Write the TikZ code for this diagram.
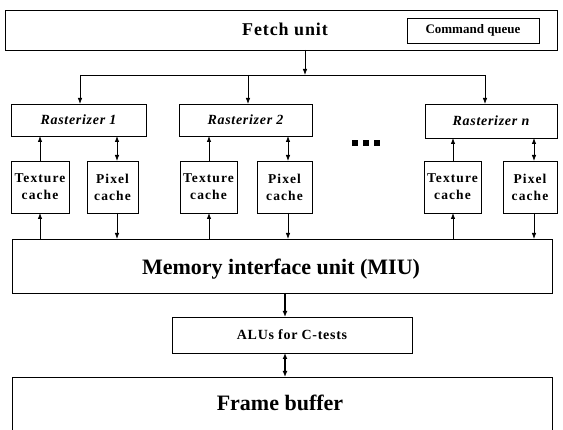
\documentclass[tikz,border=0pt]{standalone}
\usepackage{fontspec}
\setmainfont{Liberation Serif}
\newfontfamily\wideserif[LetterSpace=5]{Liberation Serif}
\newfontfamily\widerserif[LetterSpace=8]{Liberation Serif}
\usetikzlibrary{arrows.meta}
\begin{document}
\begin{tikzpicture}[x=1pt,y=-1pt,
  box/.style={draw,line width=0.8pt,inner sep=0pt,outer sep=0pt,align=center},
  conn/.style={line width=0.8pt},
  arr/.style={conn,-{Latex[length=6pt,width=4.5pt]}},
  darr/.style={conn,{Latex[length=6pt,width=4.5pt]}-{Latex[length=6pt,width=4.5pt]}},
  heavy/.style={line width=1.5pt},
  cachebox/.style={box,minimum height=52pt,font=\widerserif\bfseries\fontsize{13.5}{17}\selectfont},
  rastbox/.style={box,minimum height=32pt,font=\wideserif\bfseries\itshape\fontsize{14}{16}\selectfont},
  biglabel/.style={font=\bfseries\fontsize{22}{26}\selectfont,inner sep=0pt}]
\useasboundingbox (0,0) rectangle (563,430);
\fill[white] (0,0) rectangle (563,430);

% fetch unit with its command queue
\node[box,minimum width=552pt,minimum height=40pt] (fetch) at (281,30) {};
\node[font=\wideserif\bfseries\fontsize{18}{20}\selectfont,inner sep=0pt] (fetchlbl) at (285,29) {Fetch unit};
\node[box,minimum width=132pt,minimum height=25pt,font=\bfseries\fontsize{13}{15}\selectfont] (cmdq) at (473,30.5) {Command queue};

% rasterizers
\node[rastbox,minimum width=135pt] (r1) at (78.5,120) {Rasterizer 1};
\node[rastbox,minimum width=133pt] (r2) at (245.5,120) {Rasterizer 2};
\node[rastbox,minimum width=132pt,minimum height=34pt] (rn) at (491,121) {Rasterizer \textit{n}};

% caches
\node[cachebox,minimum width=58pt] (t1) at (40,187) {Texture\\cache};
\node[cachebox,minimum width=51pt] (p1) at (112.5,187) {Pixel\\cache};
\node[cachebox,minimum width=57pt] (t2) at (208.5,187) {Texture\\cache};
\node[cachebox,minimum width=55pt] (p2) at (284.5,187) {Pixel\\cache};
\node[cachebox,minimum width=57pt] (tn) at (452.5,187) {Texture\\cache};
\node[cachebox,minimum width=54pt] (pn) at (530,187) {Pixel\\cache};

% continuation dots
\foreach \dx in {355,366,377} \fill (\dx-3,140) rectangle (\dx+3,146);

% memory interface, ALUs and frame buffer
\node[box,minimum width=540pt,minimum height=54pt] (miu) at (282,266) {};
\node[biglabel] (miulbl) at (281,269) {Memory interface unit (MIU)};
\node[box,minimum width=240pt,minimum height=36pt,font=\wideserif\bfseries\fontsize{14}{16}\selectfont] (alu) at (292,335) {ALUs for C-tests};
\node[inner sep=0pt,outer sep=0pt,minimum width=540pt,minimum height=70pt] (frame) at (282,412) {};
\draw[line width=0.8pt] (frame.south west) -- (frame.north west) -- (frame.north east) -- (frame.south east);
\node[biglabel] (framelbl) at (280,403) {Frame buffer};

% distribution from the fetch unit
\coordinate (bus) at (305,75);
\coordinate (busL) at (80,75);
\coordinate (busM) at (248,75);
\coordinate (busR) at (485,75);
\draw[arr] (fetch.south -| bus) -- (bus);
\draw[conn] (busL) -- (busR);
\draw[arr] (busL) -- (busL |- r1.north);
\draw[arr] (busM) -- (busM |- r2.north);
\draw[arr] (busR) -- (busR |- rn.north);

% cache links to rasterizers and to the MIU
\foreach \t/\p/\r/\tx/\px in {t1/p1/r1/40/117, t2/p2/r2/209/288, tn/pn/rn/453/534} {
  \draw[arr] (\t.north -| \tx,0) -- (\r.south -| \tx,0);
  \draw[darr] (\p.north -| \px,0) -- (\r.south -| \px,0);
  \draw[arr] (miu.north -| \tx,0) -- (\t.south -| \tx,0);
  \draw[arr] (\p.south -| \px,0) -- (miu.north -| \px,0);
}

% MIU to ALUs to frame buffer
\coordinate (spine) at (285,0);
\draw[heavy,-{Latex[length=6pt,width=5pt]}] (miu.south -| spine) -- (alu.north -| spine);
\draw[heavy,{Latex[length=6pt,width=5pt]}-{Latex[length=6pt,width=5pt]}] (alu.south -| spine) -- (frame.north -| spine);
\end{tikzpicture}
\end{document}
